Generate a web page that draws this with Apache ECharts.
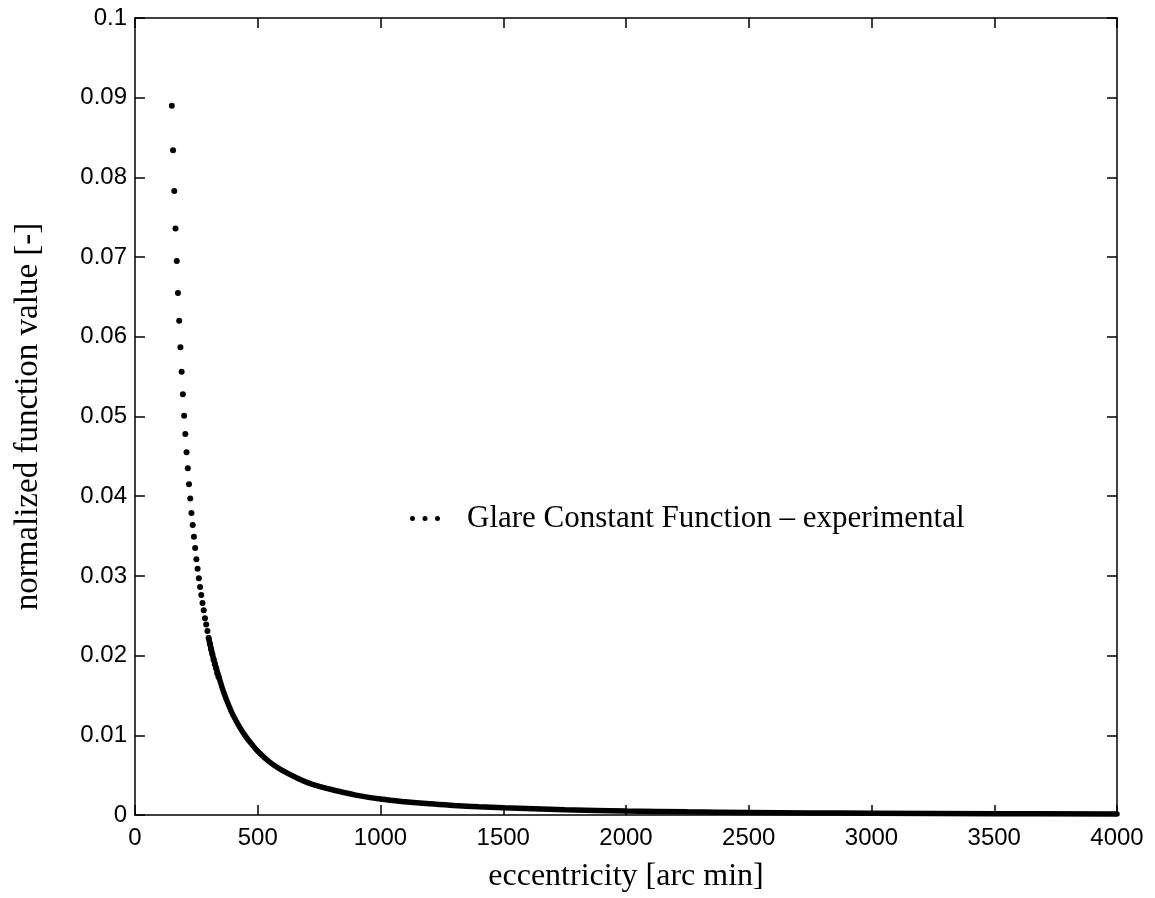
<!DOCTYPE html>
<html>
<head>
<meta charset="utf-8">
<script src="https://cdn.jsdelivr.net/npm/echarts@6/dist/echarts.min.js"></script>
<style>
  html, body { margin: 0; padding: 0; background: #fff; }
  #chart { width: 1155px; height: 898px; }
</style>
</head>
<body>
<div id="chart"></div>
<script>
// separate dots (eccentricity in arc min)
var dotX = [150, 155, 160, 165, 170, 175, 180, 185, 190, 195, 200, 205, 210, 215, 220,
  225, 230, 235, 240, 245, 250, 255, 260, 265, 270, 275, 280, 285, 290, 295, 300,
  305, 310, 315, 320, 325, 330, 335, 340];
var dotY = [0.0890, 0.0834, 0.0783, 0.0736, 0.0695, 0.0655, 0.0620, 0.0587, 0.0556, 0.0528,
  0.0501, 0.0478, 0.0455, 0.0435, 0.0415, 0.0397, 0.0379, 0.0364, 0.0349, 0.0335, 0.0321,
  0.0309, 0.0297, 0.0286, 0.0276, 0.0266, 0.0257, 0.0247, 0.0239, 0.0231, 0.0222,
  0.0215, 0.0208, 0.0202, 0.0195, 0.0189, 0.0184, 0.0178, 0.0173];

// dense part where the dots merge into a band
var bandX = [300, 320, 340, 360, 380, 400, 425, 450, 475, 500, 550, 600, 650, 700, 750, 800,
  900, 1000, 1100, 1200, 1300, 1400, 1500, 1750, 2000, 2250, 2500, 2750, 3000, 3500, 4000];
var bandY = [0.0222, 0.0196, 0.0175, 0.0155, 0.0139, 0.0125, 0.0111, 0.0099, 0.0089, 0.0080,
  0.0066, 0.0056, 0.0048, 0.0041, 0.0036, 0.0032, 0.0025, 0.0020, 0.00166, 0.0014, 0.0012,
  0.00103, 0.0009, 0.00066, 0.0005, 0.0004, 0.00032, 0.00026, 0.00022, 0.00016, 0.000125];

var seriesName = 'Glare Constant Function \u2013 experimental';

var dots = dotX.map(function (x, i) { return [x, dotY[i]]; });
var band = bandX.map(function (x, i) { return [x, bandY[i]]; });

var chart = echarts.init(document.getElementById('chart'));

var axisBase = {
  type: 'value',
  splitLine: { show: false },
  axisLine: { onZero: false, lineStyle: { color: '#000', width: 1.5 } },
  axisTick: { inside: true, length: 10, lineStyle: { color: '#000', width: 1.5 } },
  axisLabel: { color: '#000', fontFamily: 'Liberation Sans', fontSize: 24 }
};

chart.setOption({
  animation: false,
  backgroundColor: '#fff',
  grid: { left: 135, right: 38, top: 18, bottom: 77 },
  legend: {
    data: [seriesName],
    left: 405,
    top: 498,
    icon: 'path://M0,2a2,2 0 1,0 4,0a2,2 0 1,0 -4,0M10,2a2,2 0 1,0 4,0a2,2 0 1,0 -4,0M20,2a2,2 0 1,0 4,0a2,2 0 1,0 -4,0',
    itemWidth: 30,
    itemHeight: 6,
    textStyle: { color: '#000', fontFamily: 'Liberation Serif', fontSize: 31, padding: [0, 0, 0, 22] }
  },
  xAxis: [
    Object.assign({}, axisBase, {
      min: 0, max: 4000, interval: 500,
      name: 'eccentricity [arc min]',
      nameLocation: 'middle',
      nameGap: 46,
      nameTextStyle: { color: '#000', fontFamily: 'Liberation Serif', fontSize: 32 },
      axisLabel: Object.assign({}, axisBase.axisLabel, {
        margin: 11,
        formatter: function (v) { return String(v); }
      })
    }),
    Object.assign({}, axisBase, {
      min: 0, max: 4000, interval: 500, position: 'top',
      axisLabel: { show: false }
    })
  ],
  yAxis: [
    Object.assign({}, axisBase, {
      min: 0, max: 0.1, interval: 0.01,
      name: 'normalized function value [-]',
      nameLocation: 'middle',
      nameGap: 90,
      nameTextStyle: { color: '#000', fontFamily: 'Liberation Serif', fontSize: 33 },
      axisLabel: Object.assign({}, axisBase.axisLabel, {
        margin: 8,
        formatter: function (v) { return String(+v.toFixed(2)); }
      })
    }),
    Object.assign({}, axisBase, {
      min: 0, max: 0.1, interval: 0.01, position: 'right',
      axisLabel: { show: false }
    })
  ],
  series: [
    {
      name: seriesName,
      type: 'scatter',
      data: dots,
      symbol: 'circle',
      symbolSize: 6,
      itemStyle: { color: '#000', opacity: 1 }
    },
    {
      name: 'band',
      type: 'line',
      data: band,
      smooth: 0.4,
      showSymbol: false,
      lineStyle: { color: '#000', width: 5.5, cap: 'round' },
      itemStyle: { color: '#000' }
    }
  ]
});
</script>
</body>
</html>
